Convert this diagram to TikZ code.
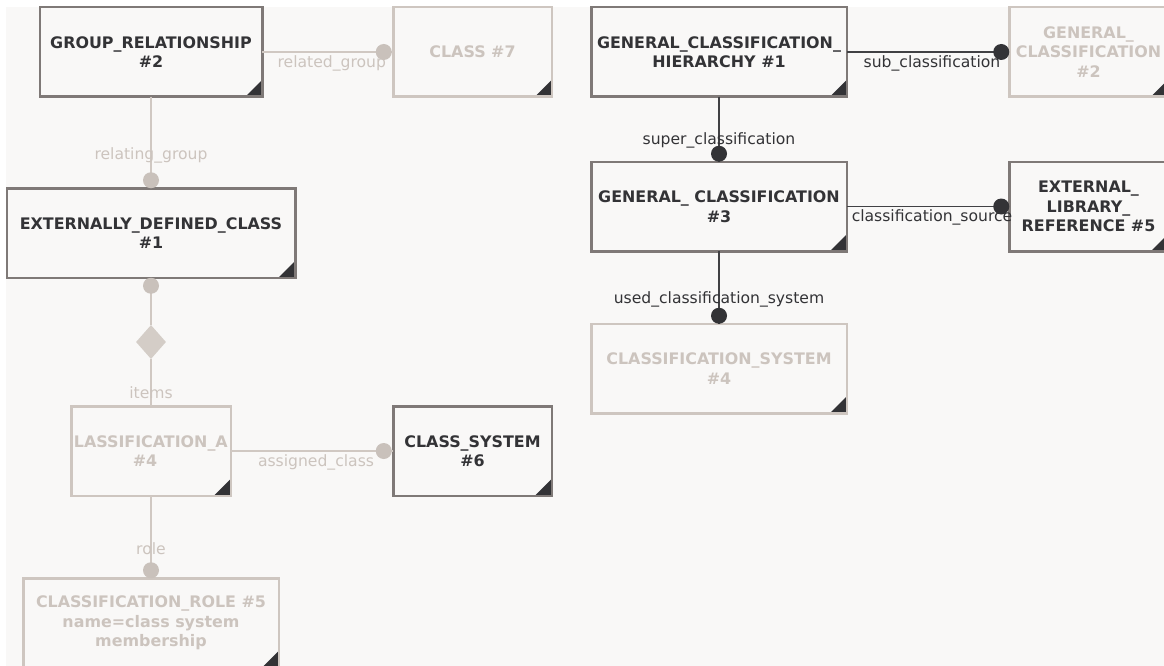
\documentclass[tikz,border=0pt]{standalone}
\usepackage{fontspec}
\setmainfont{DejaVu Sans}
\usepackage{tikz}
\usetikzlibrary{shapes.geometric}
\definecolor{canvas}{HTML}{F9F8F7}
\definecolor{framedark}{HTML}{7F7977}
\definecolor{framelight}{HTML}{CEC6C0}
\definecolor{inkdark}{HTML}{333336}
\definecolor{inklight}{HTML}{CCC4BE}
\definecolor{wiredark}{HTML}{414144}
\definecolor{wirelight}{HTML}{D0C8C2}
\definecolor{dotlight}{HTML}{C9C1BB}
\definecolor{aggfill}{HTML}{D4CDC7}
\newcommand{\boxfont}{\bfseries\fontsize{15.9}{19.5}\selectfont}
\newcommand{\lblfont}{\fontsize{15.6}{18}\selectfont}

\tikzset{
entity/.style={draw=framedark, line width=2.5pt, fill=canvas, text=inkdark,
  inner sep=0pt, outer sep=0pt, minimum width=#1, minimum height=89.5pt,
  align=center, font=\boxfont,
  path picture={\fill[inkdark] (path picture bounding box.south east)
    -- ++(-17pt,0pt) -- ++(17pt,17pt) -- cycle;}},
ghost/.style={entity=#1, draw=framelight, text=inklight},
darkconn/.style={draw=wiredark, line width=1.6pt},
faintconn/.style={draw=wirelight, line width=2pt},
darklbl/.style={text=inkdark, font=\lblfont, inner sep=0pt},
faintlbl/.style={text=inklight, font=\lblfont, inner sep=0pt},
darkdot/.style={fill=inkdark},
faintdot/.style={fill=dotlight}
}

\begin{document}
\begin{tikzpicture}[x=1pt,y=-1pt]
\useasboundingbox (0,0) rectangle (1164,666);
\clip (0,0) rectangle (1164,666);
\fill[white] (0,0) rectangle (1164,666);
\fill[canvas] (6,7) rectangle (1164,666);

\node[entity=222.5pt] (grp) at (151,52) {GROUP\_RELATIONSHIP\\\#2};
\node[ghost=158.5pt] (cls7) at (472.5,52) {CLASS \#7};
\node[entity=255.5pt] (gch) at (719,52) {GENERAL\_CLASSIFICATION\_\\HIERARCHY \#1};
\node[ghost=158.5pt] (gc2) at (1088.5,52) {GENERAL\_\\CLASSIFICATION\\\#2};
\node[entity=288.5pt] (edc) at (151,233) {EXTERNALLY\_DEFINED\_CLASS\\\#1};
\node[entity=255.5pt] (gc3) at (719,206.5) {GENERAL\_ CLASSIFICATION\\\#3};
\node[entity=158.5pt] (elr) at (1088.5,206.5) {EXTERNAL\_\\LIBRARY\_\\REFERENCE \#5};
\node[ghost=255.5pt] (cs4) at (719,368.5) {CLASSIFICATION\_SYSTEM\\\#4};
\node[ghost=159.5pt] (ca4) at (151,451) {};
\node[entity=158.5pt] (csys) at (472.5,451) {CLASS\_SYSTEM\\\#6};
\node[ghost=255.5pt] (cr5) at (151,623) {CLASSIFICATION\_ROLE \#5\\name=class system\\membership};
\node[shape=diamond, fill=aggfill, inner sep=0pt, minimum width=30pt, minimum height=34pt] (agg) at (151,342) {};

\begin{scope}
\clip ([xshift=1.25pt]ca4.south west) rectangle ([xshift=-1.25pt]ca4.north east);
\node[text=inklight, font=\boxfont, align=center] (ca4txt) at ([xshift=-6pt]ca4.center) {CLASSIFICATION\_A\\\#4};
\end{scope}

\draw[faintconn] (grp) -- (cls7) node[faintlbl, midway, xshift=4pt, yshift=-11pt] (lRelated) {related\_group};
\fill[faintdot] ([xshift=-9.5pt]cls7.west) circle (8pt);
\draw[faintconn] (grp) -- (edc) node[faintlbl, pos=0.64] (lRelating) {relating\_group};
\fill[faintdot] ([yshift=8pt]edc.north) circle (8pt);
\draw[faintconn] (edc) -- (agg) -- (ca4) node[faintlbl, pos=0.72] (lItems) {items};
\fill[faintdot] ([yshift=-8pt]edc.south) circle (8pt);
\draw[faintconn] (ca4) -- (csys) node[faintlbl, midway, xshift=4pt, yshift=-11pt] (lAssigned) {assigned\_class};
\fill[faintdot] ([xshift=-9.5pt]csys.west) circle (8pt);
\draw[faintconn] (ca4) -- (cr5) node[faintlbl, pos=0.64] (lRole) {role};
\fill[faintdot] ([yshift=8pt]cr5.north) circle (8pt);

\draw[darkconn] (gch) -- (gc2) node[darklbl, midway, xshift=4pt, yshift=-11pt] (lSub) {sub\_classification};
\fill[darkdot] ([xshift=-8pt]gc2.west) circle (8pt);
\draw[darkconn] (gch) -- (gc3) node[darklbl, pos=0.67] (lSuper) {super\_classification};
\fill[darkdot] ([yshift=8pt]gc3.north) circle (8pt);
\draw[darkconn] (gc3) -- (elr) node[darklbl, midway, xshift=4pt, yshift=-11pt] (lSource) {classification\_source};
\fill[darkdot] ([xshift=-8pt]elr.west) circle (8pt);
\draw[darkconn] (gc3) -- (cs4) node[darklbl, pos=0.67] (lUsed) {used\_classification\_system};
\fill[darkdot] ([yshift=8pt]cs4.north) circle (8pt);
\end{tikzpicture}
\end{document}
